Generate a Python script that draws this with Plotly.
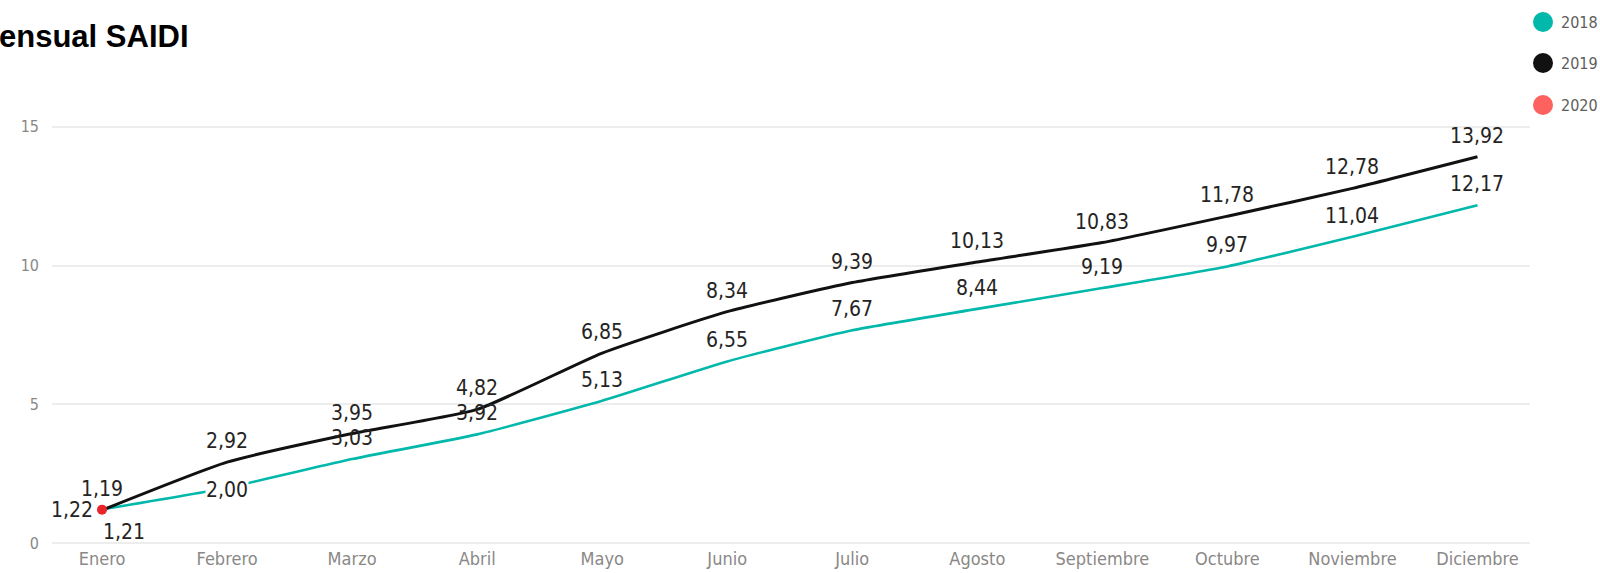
import plotly.graph_objects as go

# Datos (SAIDI acumulado mensual)
meses = ['Enero', 'Febrero', 'Marzo', 'Abril', 'Mayo', 'Junio', 'Julio',
         'Agosto', 'Septiembre', 'Octubre', 'Noviembre', 'Diciembre']
saidi_2018 = [1.22, 2.00, 3.03, 3.92, 5.13, 6.55, 7.67, 8.44, 9.19, 9.97, 11.04, 12.17]
saidi_2019 = [1.19, 2.92, 3.95, 4.82, 6.85, 8.34, 9.39, 10.13, 10.83, 11.78, 12.78, 13.92]
meses_2020 = ['Enero']
saidi_2020 = [1.21]
anios = ['2018', '2019', '2020']
colores = ['#01B8AA', '#111111', '#FD625E']

FUENTE = 'DejaVu Sans Condensed, DejaVu Sans'
LABEL_FONT = dict(family=FUENTE, size=21, color='#252423')

# area de trazado en pixeles
L, R, T, B = 52, 1530, 124, 546


def fmt(v):
    return ('%.2f' % v).replace('.', ',')


def px_x(p):
    return (p - L) / float(R - L)


def px_y(p):
    return (B - p) / float(B - T)


fig = go.Figure()

fig.add_trace(go.Scatter(x=meses, y=saidi_2018, mode='lines', name='2018',
                         line=dict(color=colores[0], width=2.6, shape='spline', smoothing=0.5),
                         showlegend=False))
fig.add_trace(go.Scatter(x=meses, y=saidi_2019, mode='lines', name='2019',
                         line=dict(color=colores[1], width=3, shape='spline', smoothing=0.5),
                         showlegend=False))
fig.add_trace(go.Scatter(x=meses_2020, y=saidi_2020, mode='markers', name='2020',
                         marker=dict(color='#E8262A', size=10), showlegend=False))

annotations = []

# etiquetas de datos, por defecto encima del punto
# (mes, serie) -> (xshift, yshift, xanchor, fondo)
especiales = {
    ('Enero', '2018'): (-8, -1, 'right', None),
    ('Febrero', '2018'): (0, -2, 'center', 'white'),
    ('Enero', '2020'): (22, -22, 'center', None),
}

for anio, xs, ys in [('2018', meses, saidi_2018), ('2019', meses, saidi_2019),
                     ('2020', meses_2020, saidi_2020)]:
    for m, v in zip(xs, ys):
        xsh, ysh, xa, bg = especiales.get((m, anio), (0, 21, 'center', None))
        annotations.append(dict(x=m, y=v, xref='x', yref='y', text=fmt(v), showarrow=False,
                                xshift=xsh, yshift=ysh, xanchor=xa, yanchor='middle',
                                font=LABEL_FONT, bgcolor=bg, borderpad=0))

# titulo recortado
annotations.append(dict(x=px_x(0), y=px_y(37), xref='paper', yref='paper', text='<b>ensual SAIDI</b>',
                        showarrow=False, xanchor='left', yanchor='middle', xshift=-3,
                        font=dict(family='Liberation Sans, Arial', size=31, color='#000000')))

# leyenda a la derecha
shapes = []
leg_y = [22, 63, 105]
for anio, col, py in zip(anios, colores, leg_y):
    shapes.append(dict(type='circle', xref='paper', yref='paper', xsizemode='pixel', ysizemode='pixel',
                       xanchor=px_x(1543), yanchor=px_y(py), x0=-10, x1=10, y0=-10, y1=10,
                       fillcolor=col, line=dict(width=0)))
    annotations.append(dict(x=px_x(1599), y=px_y(py), xref='paper', yref='paper', text=anio,
                            showarrow=False, xanchor='right', yanchor='middle', borderpad=0,
                            font=dict(family=FUENTE, size=16, color='#605E5C')))

fig.update_layout(
    width=1600, height=573,
    margin=dict(l=L, r=1600 - R, t=T, b=573 - B),
    paper_bgcolor='white', plot_bgcolor='white',
    annotations=annotations, shapes=shapes,
    showlegend=False,
)
fig.update_xaxes(type='category', range=[-0.4, 11.42], showgrid=False, zeroline=False,
                 showline=False, ticks='', ticklabelstandoff=0, automargin=False,
                 tickfont=dict(family=FUENTE, size=18, color='#8A8886'))
fig.update_yaxes(range=[-0.1, 15.1], tickvals=[0, 5, 10, 15], showgrid=True, gridcolor='#EDEDED',
                 gridwidth=2, zeroline=False, showline=False, ticklabelstandoff=12, automargin=False,
                 tickfont=dict(family=FUENTE, size=16, color='#8A8886'))

fig.write_html('out.html', config={'displayModeBar': False},
               post_script="document.body.style.margin='0px';")
